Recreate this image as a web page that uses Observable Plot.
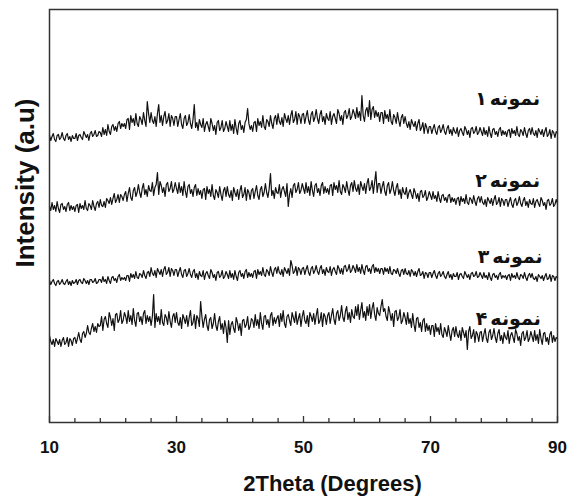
<!DOCTYPE html>
<html><head><meta charset="utf-8">
<script src="https://cdn.jsdelivr.net/npm/d3@7"></script>
<script src="https://cdn.jsdelivr.net/npm/@observablehq/plot@0.6"></script>
<style>body{margin:0;background:#fff}#chart svg{display:block}</style>
</head><body><div id="chart"></div>
<script>
// 2θ sampling of the patterns (degrees)
const xStart = 10, xStep = 0.2;

// Intensity (a.u., stacked with offsets), 401 points each (10°–90°)
const sample1 = [
287,282,286,289,283,281,287,288,283,285,290,284,282,287,289,283,286,281,287,284,
284,289,282,287,288,285,283,291,288,285,288,282,289,291,286,288,292,286,287,291,
290,286,295,288,293,287,298,291,288,296,298,292,296,291,299,301,294,299,296,299,
294,303,304,293,307,300,304,297,309,299,296,306,303,298,310,302,296,321,309,300,
310,302,299,306,296,309,318,300,307,297,306,311,299,302,309,296,307,304,297,306,
306,296,303,309,298,294,304,307,297,300,308,299,294,303,318,295,300,292,303,298,
295,304,291,298,301,296,291,304,299,292,297,288,300,302,292,295,302,291,294,301,
296,291,302,292,298,289,303,294,288,299,302,293,297,290,300,303,314,299,293,297,
291,300,301,291,304,297,301,295,307,296,293,303,301,296,307,299,294,304,307,298,
309,301,298,305,296,309,304,300,307,298,307,312,300,303,311,298,309,306,299,308,
309,299,306,312,302,298,308,311,301,305,313,304,299,308,312,301,306,298,309,304,
302,311,298,306,309,304,299,313,309,302,307,298,310,312,304,307,314,303,306,313,
309,304,315,305,311,302,327,307,301,312,315,306,322,303,313,316,305,312,306,310,
301,310,310,299,312,304,308,301,313,301,298,308,305,299,310,302,296,305,308,299,
306,299,295,301,293,303,299,296,301,292,299,303,292,295,300,289,299,295,289,296,
296,289,294,298,291,288,295,297,290,293,298,291,288,294,297,289,293,287,295,291,
289,295,286,292,294,290,287,296,293,288,292,285,294,295,289,291,296,288,290,295,
291,287,295,288,292,286,296,289,285,293,294,288,291,286,293,295,287,292,288,291,
286,292,293,285,294,289,292,287,296,288,286,293,291,287,295,289,285,292,294,288,
295,289,287,292,285,294,291,288,293,286,291,295,286,288,293,284,292,290,285,291,
289];
const sample2 = [
216,212,220,213,217,211,221,214,210,218,219,213,216,211,218,220,212,217,213,216,
211,217,218,210,219,214,217,213,222,214,212,219,217,213,222,216,212,219,221,215,
223,217,216,221,215,224,222,219,225,218,224,229,220,223,228,220,228,226,222,228,
231,221,229,235,225,222,232,235,226,230,238,230,225,234,239,228,233,226,237,232,
231,240,227,235,238,250,228,241,237,230,235,226,238,240,231,234,241,230,233,240,
234,229,240,230,236,227,241,231,225,236,238,229,233,226,235,238,227,234,228,232,
224,233,234,223,236,229,233,226,238,227,223,233,230,225,236,228,222,232,235,226,
236,228,225,232,222,235,230,226,233,223,232,237,225,228,235,222,233,230,223,232,
234,224,231,237,227,223,233,236,226,230,239,230,225,234,249,227,232,224,235,230,
229,238,225,233,236,231,226,239,216,228,234,225,237,239,230,233,240,229,232,239,
234,229,240,230,236,227,241,232,226,237,239,230,234,227,237,240,229,236,230,234,
228,237,238,227,240,233,237,230,242,231,228,238,235,230,241,233,227,237,240,231,
242,234,231,238,228,241,236,232,239,229,239,244,232,235,242,229,240,251,230,239,
239,229,236,241,231,227,237,240,229,233,241,232,227,235,239,228,233,224,235,230,
228,235,224,230,233,228,224,234,230,224,229,221,231,232,225,227,232,222,225,231,
227,223,231,224,227,221,231,224,220,227,228,222,225,220,227,228,220,225,221,224,
218,224,225,217,226,221,224,219,228,220,218,225,223,219,227,221,217,224,226,220,
226,220,218,223,216,225,222,219,224,217,223,227,218,220,225,216,224,222,217,223,
223,216,221,225,218,215,222,224,217,220,226,219,216,222,225,217,221,215,223,219,
218,224,215,221,223,219,216,225,222,217,220,213,222,223,217,219,224,216,218,223,
219];
const sample3 = [
142,138,141,143,139,137,141,142,138,140,143,139,138,141,143,138,141,137,142,139,
140,143,138,142,143,140,139,144,142,139,142,138,143,143,140,141,144,139,140,143,
143,140,146,141,143,139,146,142,139,145,146,142,144,140,146,148,142,145,143,145,
142,147,147,141,149,145,148,144,151,145,144,149,148,145,152,147,144,150,151,146,
155,149,147,152,145,154,151,148,153,146,153,156,148,150,155,146,154,152,147,153,
153,146,151,155,148,145,152,153,146,149,154,148,145,151,153,145,149,143,151,147,
146,152,143,149,151,147,144,153,150,145,148,142,150,151,145,147,152,144,146,151,
148,144,152,145,149,143,152,146,142,150,152,146,149,144,151,153,145,150,146,149,
145,151,152,144,153,148,151,147,155,148,146,153,151,147,156,150,146,153,155,149,
156,150,148,153,146,155,152,149,154,147,162,157,149,151,156,147,155,153,148,154,
155,148,153,157,150,147,154,156,149,152,157,151,148,154,157,149,153,147,155,151,
150,156,147,153,155,151,148,157,154,149,154,148,156,157,151,153,158,150,152,157,
154,150,158,151,155,149,158,152,148,156,157,151,154,149,156,158,150,155,151,154,
149,154,154,148,155,151,154,149,156,149,148,153,152,149,154,149,146,152,153,148,
154,149,148,152,146,153,151,147,151,146,151,154,147,148,151,144,150,149,145,150,
150,145,149,152,147,144,149,151,146,148,151,146,144,148,151,145,148,143,149,146,
146,150,143,148,149,146,144,151,148,145,148,143,149,150,146,147,151,145,146,150,
147,144,150,145,147,143,150,145,142,148,149,145,147,143,148,150,144,147,145,147,
143,147,148,142,149,145,147,144,150,145,143,148,147,144,150,145,142,147,149,145,
149,144,143,146,141,148,146,144,147,142,146,149,143,144,148,141,147,146,142,146,
145];
const sample4 = [
87,81,78,83,76,84,81,78,83,76,82,85,78,80,85,76,84,82,77,84,
85,79,84,90,83,80,89,91,85,89,97,90,88,94,99,91,96,90,99,96,
97,106,92,103,106,99,95,110,105,97,104,92,108,109,100,103,112,99,102,110,
106,99,112,101,107,98,114,102,96,109,110,101,106,98,109,112,99,107,101,106,
97,106,128,95,109,101,106,98,113,100,97,108,105,98,111,101,95,106,109,100,
110,100,97,105,94,108,104,99,107,96,105,112,97,100,108,94,107,104,96,121,
106,95,103,108,97,92,103,105,94,99,109,97,92,101,106,93,99,89,102,95,
80,102,88,98,101,94,90,105,100,92,99,87,102,103,95,98,106,93,96,104,
102,95,108,97,103,94,110,99,93,106,107,98,103,95,107,110,97,105,99,104,
107,96,109,101,112,99,95,106,108,102,97,110,105,100,111,98,104,109,96,106,
112,102,99,107,96,110,106,101,109,98,107,114,99,102,110,96,109,106,98,107,
110,99,107,114,103,98,109,112,102,107,117,105,101,111,116,103,110,100,113,106,
104,116,107,118,103,112,120,105,111,102,116,107,118,104,114,120,108,102,115,109,
107,116,123,111,114,106,102,116,110,102,109,96,111,112,102,105,113,99,102,110,
105,98,110,99,104,95,109,98,91,104,105,95,100,91,102,104,91,99,92,97,
88,97,97,86,99,91,95,88,99,88,85,95,91,86,97,89,82,92,95,86,
96,88,85,92,82,95,90,85,92,73,91,96,84,87,93,80,91,88,81,90,
91,81,88,94,84,80,90,93,83,87,94,85,80,89,93,82,87,79,90,85,
83,92,79,87,90,85,80,93,89,82,86,77,89,91,82,85,92,81,84,91,
86,81,92,82,88,79,93,84,78,89,90,81,85,78,88,91,80,87,81,85,
84];

// Series labels ("sample 1..4"): digit drawn left of the word, as in the figure
const sampleWord = "نمونه";
const sampleDigits = ["۱", "۲", "۳", "۴"];
const labelX = [83.3, 83.3, 83.7, 83.4];   // centre of the word (degrees)
const labelY = [324, 242, 166, 104];       // intensity units

// Axis ticks and titles
const majorTicks = [10, 30, 50, 70, 90];
const minorTicks = [14, 18, 22, 26, 34, 38, 42, 46, 54, 58, 62, 66, 74, 78, 82, 86];
const xTitle = "2Theta (Degrees)";
const yTitle = "Intensity (a.u)";

const series = [sample1, sample2, sample3, sample4];
const rows = series.flatMap((s, k) => s.map((v, i) => ({x: xStart + i * xStep, y: v, k})));
const labels = sampleDigits.map((d, i) => ({digit: d, word: sampleWord, x: labelX[i], y: labelY[i]}));

const labelStyle = {fontFamily: "'DejaVu Sans', sans-serif", fontWeight: "bold", fontSize: 19, fill: "#111", textAnchor: "middle"};

const plot = Plot.plot({
  width: 568, height: 503,
  marginTop: 9, marginBottom: 81, marginLeft: 49, marginRight: 11,
  x: {domain: [10, 90], label: null},
  y: {domain: [0, 413], axis: null, label: null},
  style: {fontFamily: "'Liberation Sans', Arial, sans-serif", background: "#fff", color: "#111"},
  marks: [
    Plot.lineY(rows, {x: "x", y: "y", z: "k", stroke: "#111", strokeWidth: 1.2}),
    Plot.axisX({ticks: minorTicks, tickSize: 4, dy: -4, tickFormat: () => "", label: null, stroke: "#333", strokeWidth: 1.3}),
    Plot.axisX({ticks: majorTicks, tickSize: 6, dy: -6, tickFormat: () => "", label: null, stroke: "#333", strokeWidth: 1.3}),
    Plot.axisX({ticks: majorTicks, tickSize: 0, tickPadding: 18, fontSize: 17, fontWeight: "bold", label: null}),
    Plot.frame({stroke: "#333", strokeWidth: 1.5}),
    Plot.text(labels, {x: "x", y: "y", text: "word", ...labelStyle}),
    Plot.text(labels, {x: "x", y: "y", text: "digit", dx: -34, ...labelStyle}),
    Plot.text([yTitle], {frameAnchor: "left", text: d => d, textAnchor: "middle", dx: -24, dy: -33, rotate: -90, fontSize: 26, fontWeight: "bold", fill: "#111"}),
    Plot.text([xTitle], {frameAnchor: "bottom", text: d => d, dx: 29, dy: 68, fontSize: 22, fontWeight: "bold", fill: "#111"})
  ]
});
document.getElementById("chart").append(plot);
</script>
</body></html>
